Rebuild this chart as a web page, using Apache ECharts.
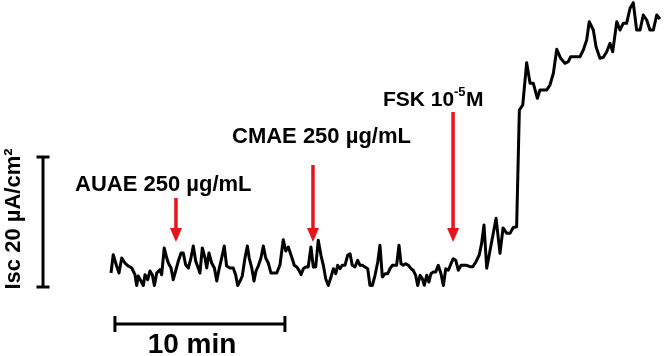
<!DOCTYPE html>
<html>
<head>
<meta charset="utf-8">
<script src="https://cdn.jsdelivr.net/npm/echarts@6/dist/echarts.min.js"></script>
<style>html,body{margin:0;padding:0;background:#fff}#c{width:664px;height:356px}</style>
</head>
<body>
<div id="c"></div>
<script>
// time (min)
const timeMin = [0.06,0.19,0.39,0.53,0.69,0.88,1.08,1.28,1.47,1.57,1.66,1.82,1.96,2.06,2.22,2.35,2.49,2.61,2.75,2.84,2.94,3.04,3.19,3.34,3.43,3.59,3.72,3.86,4.02,4.18,4.31,4.45,4.61,4.76,4.9,5.04,5.19,5.29,5.43,5.59,5.69,5.82,5.98,6.14,6.28,6.41,6.57,6.72,6.86,7.06,7.25,7.39,7.51,7.65,7.78,7.94,8.08,8.19,8.34,8.47,8.59,8.72,8.88,9.02,9.16,9.31,9.47,9.61,9.81,10.0,10.19,10.34,10.49,10.72,10.84,10.98,11.12,11.24,11.37,11.51,11.66,11.82,11.96,12.1,12.25,12.41,12.55,12.69,12.84,13.0,13.14,13.28,13.39,13.53,13.66,13.82,13.98,14.12,14.25,14.41,14.57,14.71,14.84,15.0,15.16,15.29,15.43,15.59,15.75,15.88,16.02,16.18,16.34,16.47,16.61,16.72,16.86,17.0,17.12,17.25,17.39,17.55,17.71,17.84,17.98,18.1,18.24,18.37,18.49,18.63,18.76,18.88,19.02,19.16,19.31,19.47,19.61,19.75,19.9,20.06,20.19,20.34,20.49,20.65,20.78,20.98,21.18,21.34,21.53,21.72,21.86,22.0,22.16,22.71,22.94,23.12,23.34,23.53,23.72,23.92,24.08,24.28,24.51,24.71,24.9,25.14,25.29,25.69,25.88,26.08,26.28,26.51,26.76,26.96,27.1,27.65,27.84,28.04,28.19,28.43,28.59,28.82,29.02,29.22,29.41,29.57,29.81,30.0,30.19,30.39,30.59,30.78,30.98,31.18,31.37,31.57,31.76,31.96,32.16,32.35];
// Isc (µA/cm²), relative
const iscValues = [2.15,4.97,3.23,2.15,4.46,3.69,3.23,2.92,1.89,0.23,1.69,0.92,0.23,1.89,1.12,2.46,1.89,0.23,2.15,1.89,2.66,1.89,6.0,4.46,3.69,2.92,1.12,2.46,4.0,5.23,5.23,3.43,2.92,4.46,6.31,4.0,2.92,2.15,6.0,4.46,2.92,5.23,3.69,2.92,0.92,2.66,4.46,6.31,3.23,2.92,2.92,1.89,0.23,0.92,1.69,4.46,6.31,4.46,2.92,0.92,2.46,3.23,4.46,6.31,4.46,3.69,2.15,2.15,2.15,3.43,7.28,5.54,6.15,4.35,3.34,3.08,2.57,1.89,2.82,3.08,3.08,6.15,3.08,3.08,7.18,4.88,3.34,1.28,0.23,1.54,2.82,2.05,3.34,2.82,3.34,3.34,4.88,5.12,3.34,3.08,4.11,3.34,3.34,3.08,2.82,0.26,0.23,1.8,3.85,6.42,1.54,2.05,2.05,2.82,3.34,3.58,3.34,6.42,3.58,3.34,3.58,3.34,2.82,2.57,1.8,0.23,1.8,1.28,0.26,1.8,0.77,2.05,2.31,2.31,3.34,2.05,0.23,2.82,2.57,3.58,4.35,4.11,2.57,3.34,3.34,3.34,3.12,3.12,3.89,4.92,6.72,9.54,2.88,10.57,5.18,9.08,8.26,8.26,9.15,9.28,27.23,28.0,34.51,31.34,31.34,29.03,30.31,30.31,31.08,32.88,36.57,35.18,34.42,34.66,35.43,35.43,36.46,38.0,40.82,39.54,36.97,35.18,35.34,36.2,37.49,36.2,40.82,39.54,40.57,40.57,42.88,43.74,39.54,39.54,41.85,41.08,39.54,39.54,41.85,41.23];
// drug additions: time (min), arrow tail and tip levels
const additionTime = [3.88, 11.94, 20.18];
const additionLabels = ['AUAE 250 µg/mL', 'CMAE 250 µg/mL', 'FSK 10-5M'];
const arrowTail = [13.69, 18.77, 26.92];
const arrowTip = [6.92, 6.92, 6.92];
// scale bars
const scaleIsc = 20;   // µA/cm²
const scaleTime = 10;  // min

const n = Math.min(timeMin.length, iscValues.length);
const trace = [];
for (let i = 0; i < n; i++) trace.push([timeMin[i], iscValues[i]]);
const arrows = additionTime.map((t, i) => [t, arrowTail[i], arrowTip[i]]);

const RED = '#e8141b';
const FONT = '"Liberation Sans", Arial, sans-serif';
const chart = echarts.init(document.getElementById('c'), null, {renderer: 'canvas'});
chart.setOption({
  animation: false,
  backgroundColor: '#ffffff',
  grid: {left: 0, right: 0, top: 0, bottom: 0},
  xAxis: {type: 'value', min: -110 / 17, max: 554 / 17, show: false},
  yAxis: {type: 'value', min: -69 / 6.5, max: 287 / 6.5, show: false},
  series: [
    {
      type: 'line', data: trace, showSymbol: false, clip: false,
      lineStyle: {color: '#000', width: 3, join: 'round'}
    },
    {
      type: 'custom', clip: false, data: arrows, encode: {x: 0, y: [1, 2]},
      renderItem: function (params, api) {
        const top = api.coord([api.value(0), api.value(1)]);
        const tip = api.coord([api.value(0), api.value(2)]);
        const hl = 14, hw = 6;
        return {type: 'group', children: [
          {type: 'line', shape: {x1: top[0], y1: top[1], x2: tip[0], y2: tip[1] - hl + 2}, style: {stroke: RED, lineWidth: 3.5}},
          {type: 'polygon', shape: {points: [[tip[0] - hw, tip[1] - hl], [tip[0] + hw, tip[1] - hl], [tip[0], tip[1]]]}, style: {fill: RED}}
        ]};
      }
    },
    {
      // vertical scale bar (Isc)
      type: 'custom', clip: false, data: [[-3.94, 0, scaleIsc]], encode: {x: 0, y: [1, 2]},
      renderItem: function (params, api) {
        const a = api.coord([api.value(0), api.value(1)]);
        const b = api.coord([api.value(0), api.value(2)]);
        const c = 6.5;
        const st = {stroke: '#000', lineWidth: 3};
        return {type: 'group', children: [
          {type: 'line', shape: {x1: a[0], y1: a[1], x2: b[0], y2: b[1]}, style: st},
          {type: 'line', shape: {x1: a[0] - c, y1: a[1], x2: a[0] + c, y2: a[1]}, style: st},
          {type: 'line', shape: {x1: b[0] - c, y1: b[1], x2: b[0] + c, y2: b[1]}, style: st}
        ]};
      }
    },
    {
      // horizontal scale bar (time)
      type: 'custom', clip: false, data: [[0.29, 0.29 + scaleTime, -5.69]], encode: {x: [0, 1], y: 2},
      renderItem: function (params, api) {
        const a = api.coord([api.value(0), api.value(2)]);
        const b = api.coord([api.value(1), api.value(2)]);
        const c = 8;
        const st = {stroke: '#000', lineWidth: 3};
        return {type: 'group', children: [
          {type: 'line', shape: {x1: a[0], y1: a[1], x2: b[0], y2: b[1]}, style: st},
          {type: 'line', shape: {x1: a[0], y1: a[1] - c, x2: a[0], y2: a[1] + c}, style: st},
          {type: 'line', shape: {x1: b[0], y1: b[1] - c, x2: b[0], y2: b[1] + c}, style: st}
        ]};
      }
    }
  ],
  graphic: [
    {type: 'text', x: 75, y: 185, style: {text: additionLabels[0], font: 'bold 22px ' + FONT, fill: '#000', textVerticalAlign: 'middle'}},
    {type: 'text', x: 232, y: 137, style: {text: additionLabels[1], font: 'bold 22px ' + FONT, fill: '#000', textVerticalAlign: 'middle'}},
    {type: 'text', x: 383, y: 100, style: {text: 'FSK 10', font: 'bold 21px ' + FONT, fill: '#000', textVerticalAlign: 'middle'}},
    {type: 'text', x: 454, y: 92, style: {text: '-5', font: 'bold 13px ' + FONT, fill: '#000', textVerticalAlign: 'middle'}},
    {type: 'text', x: 466, y: 100, style: {text: 'M', font: 'bold 21px ' + FONT, fill: '#000', textVerticalAlign: 'middle'}},
    {type: 'text', x: 192, y: 345, style: {text: scaleTime + ' min', font: 'bold 28px ' + FONT, fill: '#000', textAlign: 'center', textVerticalAlign: 'middle'}},
    {type: 'text', x: 14, y: 219, rotation: Math.PI / 2, style: {text: 'Isc ' + scaleIsc + ' µA/cm²', font: 'bold 22px ' + FONT, fill: '#000', textAlign: 'center', textVerticalAlign: 'middle'}}
  ]
});
</script>
</body>
</html>
